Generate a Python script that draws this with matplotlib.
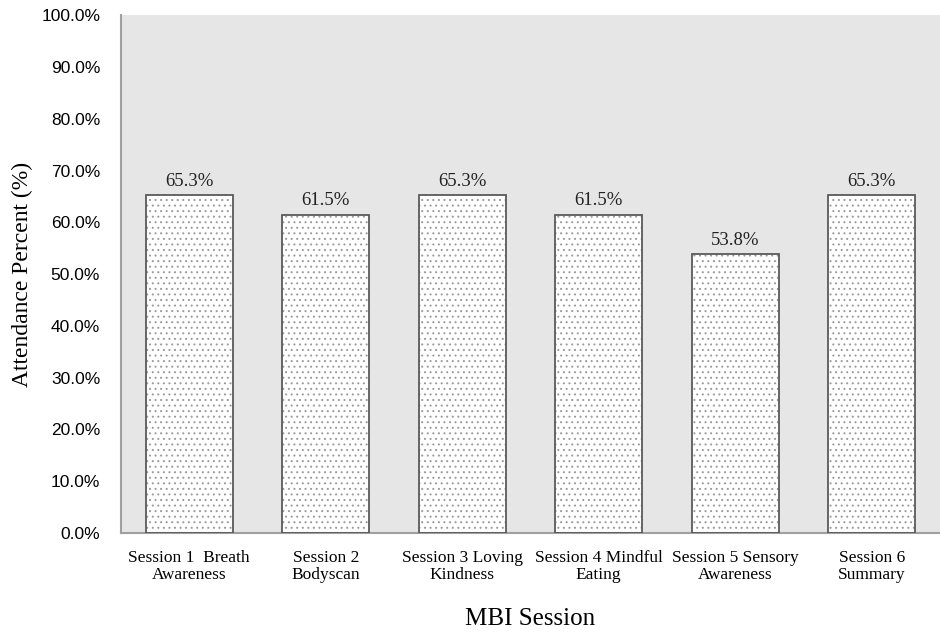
import matplotlib
matplotlib.use("Agg")
import matplotlib.pyplot as plt
import numpy as np

sessions = ["Session 1  Breath\nAwareness", "Session 2\nBodyscan", "Session 3 Loving\nKindness",
            "Session 4 Mindful\nEating", "Session 5 Sensory\nAwareness", "Session 6\nSummary"]
attendance = [65.3, 61.5, 65.3, 61.5, 53.8, 65.3]
yticks = np.arange(0, 101, 10)

plt.rcParams['hatch.linewidth'] = 0.7

fig = plt.figure(figsize=(9.4, 6.33), dpi=100)
ax = fig.add_axes([0.1287, 0.158, 0.8713, 0.818])
ax.set_facecolor('#e6e6e6')

x = np.arange(len(sessions))
# dotted fill (light dots) then a darker outline on top
ax.bar(x, attendance, width=0.64, color='white', edgecolor='#9a9a9a',
       hatch='...', linewidth=0, zorder=2)
ax.bar(x, attendance, width=0.64, fill=False, edgecolor='#5a5a5a',
       linewidth=1.3, zorder=3)
for xi, v in zip(x, attendance):
    ax.text(xi, v + 1.0, f"{v:.1f}%", ha='center', va='bottom',
            family='Liberation Serif', fontsize=13.5, color='#222222')

ax.set_xlim(-0.5, len(sessions) - 0.5)
ax.set_ylim(0, 100)
ax.set_yticks(yticks)
ax.set_yticklabels([f"{t:.1f}%" for t in yticks], family='Liberation Sans', fontsize=12.5)
ax.set_xticks(x)
ax.set_xticklabels(sessions, family='Liberation Serif', fontsize=12.5, linespacing=1.15)
ax.tick_params(length=0, pad=12)
ax.tick_params(axis='y', pad=15)

for s in ['top', 'right']:
    ax.spines[s].set_visible(False)
ax.spines['left'].set_color('#a0a0a0')
ax.spines['bottom'].set_color('#a0a0a0')
ax.spines['left'].set_linewidth(1.5)
ax.spines['bottom'].set_linewidth(1.5)

ax.set_ylabel("Attendance Percent (%)", family='Liberation Serif', fontsize=17, labelpad=6)
ax.set_xlabel("MBI Session", family='Liberation Serif', fontsize=18, labelpad=18)

fig.savefig("out.png", dpi=100)
